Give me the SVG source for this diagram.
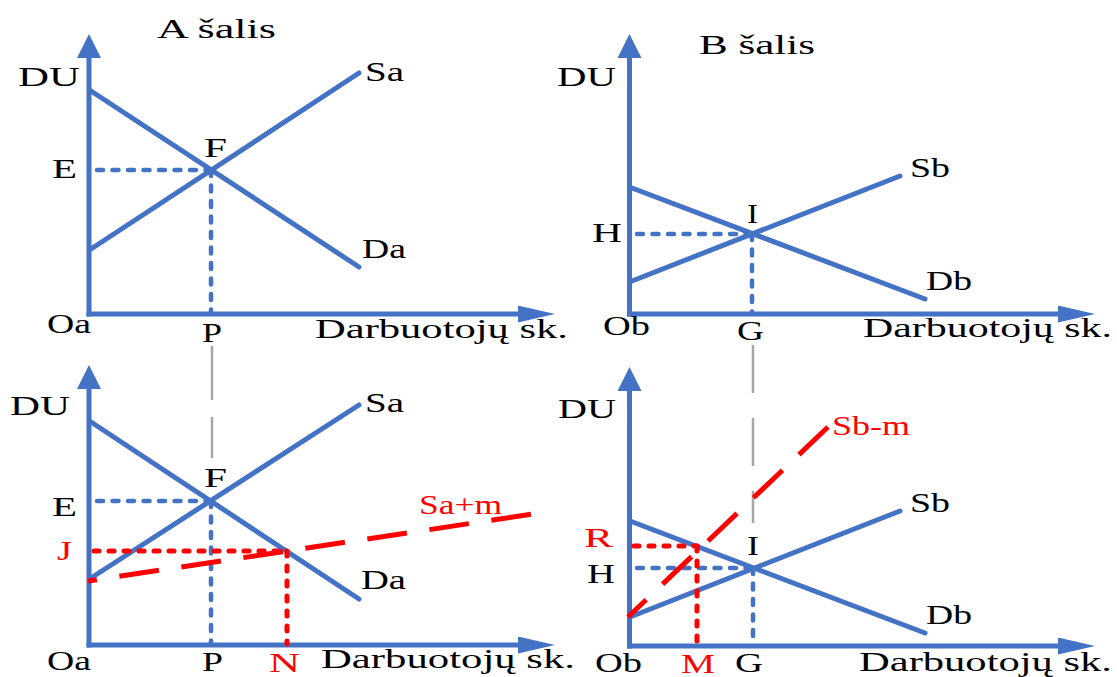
<svg xmlns="http://www.w3.org/2000/svg" width="1117" height="677" viewBox="0 0 1117 677">
<style>
.ax{stroke:#4472C4;stroke-width:5;fill:none}
.cv{stroke:#4472C4;stroke-width:5;fill:none;stroke-linecap:round}
.bd{stroke:#4472C4;stroke-width:4.5;fill:none;stroke-linecap:round;stroke-dasharray:6 9.5}
.rd{stroke:#FF0000;stroke-width:5;fill:none;stroke-linecap:round;stroke-dasharray:5 10}
.rl{stroke:#FF0000;stroke-width:5;fill:none;stroke-linecap:butt;stroke-dasharray:40 22.7}
.gl{stroke:#A6A6A6;stroke-width:2.5;fill:none}
text{font-family:"Liberation Serif","Times New Roman",serif;font-size:28px;fill:#000}
text.r{fill:#FF0000}
</style>
<defs>
<marker id="arrV" markerUnits="userSpaceOnUse" markerWidth="24" markerHeight="24" viewBox="0 0 24 24" refX="0" refY="12" orient="auto"><path d="M0,0 L24,12 L0,24 Z" fill="#4472C4"/></marker>
<marker id="arrH" markerUnits="userSpaceOnUse" markerWidth="37" markerHeight="17" viewBox="0 0 37 17" refX="0" refY="8.5" orient="auto"><path d="M0,0 L37,8.5 L0,17 Z" fill="#4472C4"/></marker>
</defs>
<rect width="1117" height="677" fill="#fff"/>

<g id="connectors">
<line class="gl" x1="212" y1="346" x2="212" y2="458" stroke-dasharray="54 17"/>
<line class="gl" x1="753" y1="345" x2="753" y2="523" stroke-dasharray="48 25"/>
</g>

<g id="panel-a-top">
<line class="ax" x1="89" y1="316.5" x2="89" y2="58" marker-end="url(#arrV)"/>
<line class="ax" x1="86.5" y1="314" x2="518" y2="314" marker-end="url(#arrH)"/>
<line class="bd" x1="97" y1="170" x2="211" y2="170"/>
<line class="bd" x1="211" y1="170" x2="211" y2="313"/>
<line class="cv" x1="91" y1="91" x2="359" y2="267"/>
<line class="cv" x1="91" y1="249" x2="359" y2="73"/>
<text x="157" y="38" textLength="119" lengthAdjust="spacingAndGlyphs">A šalis</text>
<text x="18" y="86" textLength="62" lengthAdjust="spacingAndGlyphs">DU</text>
<text x="365" y="81" textLength="39" lengthAdjust="spacingAndGlyphs">Sa</text>
<text x="204" y="157" textLength="23" lengthAdjust="spacingAndGlyphs">F</text>
<text x="52" y="178" textLength="25" lengthAdjust="spacingAndGlyphs">E</text>
<text x="362" y="258" textLength="44" lengthAdjust="spacingAndGlyphs">Da</text>
<text x="47" y="333" textLength="44" lengthAdjust="spacingAndGlyphs">Oa</text>
<text x="202" y="342" textLength="20" lengthAdjust="spacingAndGlyphs">P</text>
<text x="315" y="338" textLength="253" lengthAdjust="spacingAndGlyphs">Darbuotojų sk.</text>
</g>

<g id="panel-b-top">
<line class="ax" x1="629.5" y1="316.5" x2="629.5" y2="58" marker-end="url(#arrV)"/>
<line class="ax" x1="627" y1="314" x2="1058" y2="314" marker-end="url(#arrH)"/>
<line class="bd" x1="637" y1="234" x2="752" y2="234"/>
<line class="bd" x1="752" y1="234" x2="752" y2="313"/>
<line class="cv" x1="632" y1="188" x2="925" y2="299"/>
<line class="cv" x1="632" y1="281" x2="900" y2="176"/>
<text x="699" y="54" textLength="116" lengthAdjust="spacingAndGlyphs">B šalis</text>
<text x="557" y="86" textLength="59" lengthAdjust="spacingAndGlyphs">DU</text>
<text x="910" y="177" textLength="40" lengthAdjust="spacingAndGlyphs">Sb</text>
<text x="747" y="223" textLength="11" lengthAdjust="spacingAndGlyphs">I</text>
<text x="592" y="242" textLength="30" lengthAdjust="spacingAndGlyphs">H</text>
<text x="926" y="290" textLength="46" lengthAdjust="spacingAndGlyphs">Db</text>
<text x="603" y="335" textLength="47" lengthAdjust="spacingAndGlyphs">Ob</text>
<text x="737" y="340" textLength="27" lengthAdjust="spacingAndGlyphs">G</text>
<text x="863" y="337" textLength="249" lengthAdjust="spacingAndGlyphs">Darbuotojų sk.</text>
</g>

<g id="panel-a-bottom">
<line class="ax" x1="89" y1="647.5" x2="89" y2="389" marker-end="url(#arrV)"/>
<line class="ax" x1="86.5" y1="645" x2="518" y2="645" marker-end="url(#arrH)"/>
<line class="bd" x1="97" y1="501" x2="211" y2="501"/>
<line class="bd" x1="211" y1="501" x2="211" y2="644"/>
<line class="cv" x1="91" y1="422" x2="359" y2="599"/>
<line class="cv" x1="91" y1="578" x2="359" y2="405"/>
<line class="rd" x1="94" y1="551" x2="287" y2="551"/>
<line class="rd" x1="287" y1="551" x2="287" y2="644"/>
<line class="rl" x1="88" y1="581" x2="533" y2="514" stroke-dashoffset="31"/>
<text x="10" y="415" textLength="60" lengthAdjust="spacingAndGlyphs">DU</text>
<text x="365" y="412" textLength="39" lengthAdjust="spacingAndGlyphs">Sa</text>
<text x="204" y="487" textLength="23" lengthAdjust="spacingAndGlyphs">F</text>
<text x="52" y="516" textLength="25" lengthAdjust="spacingAndGlyphs">E</text>
<text class="r" x="419" y="514" textLength="83" lengthAdjust="spacingAndGlyphs">Sa+m</text>
<text class="r" x="57" y="560" textLength="15" lengthAdjust="spacingAndGlyphs">J</text>
<text x="361" y="589" textLength="45" lengthAdjust="spacingAndGlyphs">Da</text>
<text x="47" y="670" textLength="44" lengthAdjust="spacingAndGlyphs">Oa</text>
<text x="202" y="671" textLength="21" lengthAdjust="spacingAndGlyphs">P</text>
<text class="r" x="269" y="672" textLength="31" lengthAdjust="spacingAndGlyphs">N</text>
<text x="321" y="668" textLength="254" lengthAdjust="spacingAndGlyphs">Darbuotojų sk.</text>
</g>

<g id="panel-b-bottom">
<line class="ax" x1="629.5" y1="648.5" x2="629.5" y2="391" marker-end="url(#arrV)"/>
<line class="ax" x1="627" y1="646" x2="1058" y2="646" marker-end="url(#arrH)"/>
<line class="bd" x1="637" y1="568" x2="753" y2="568"/>
<line class="bd" x1="753" y1="568" x2="753" y2="645"/>
<line class="cv" x1="630" y1="521" x2="925" y2="633"/>
<line class="cv" x1="630" y1="617" x2="900" y2="511"/>
<line class="rd" x1="634" y1="546" x2="697" y2="546"/>
<line class="rd" x1="697" y1="546" x2="697" y2="645"/>
<line class="rl" x1="628" y1="617" x2="828" y2="427" stroke-dashoffset="15"/>
<text x="558" y="418" textLength="58" lengthAdjust="spacingAndGlyphs">DU</text>
<text class="r" x="832" y="435" textLength="78" lengthAdjust="spacingAndGlyphs">Sb-m</text>
<text x="910" y="512" textLength="40" lengthAdjust="spacingAndGlyphs">Sb</text>
<text class="r" x="584" y="547" textLength="29" lengthAdjust="spacingAndGlyphs">R</text>
<text x="747" y="555" textLength="12" lengthAdjust="spacingAndGlyphs">I</text>
<text x="587" y="583" textLength="28" lengthAdjust="spacingAndGlyphs">H</text>
<text x="926" y="624" textLength="46" lengthAdjust="spacingAndGlyphs">Db</text>
<text x="595" y="672" textLength="47" lengthAdjust="spacingAndGlyphs">Ob</text>
<text class="r" x="681" y="673" textLength="34" lengthAdjust="spacingAndGlyphs">M</text>
<text x="735" y="672" textLength="28" lengthAdjust="spacingAndGlyphs">G</text>
<text x="859" y="671" textLength="253" lengthAdjust="spacingAndGlyphs">Darbuotojų sk.</text>
</g>
</svg>
